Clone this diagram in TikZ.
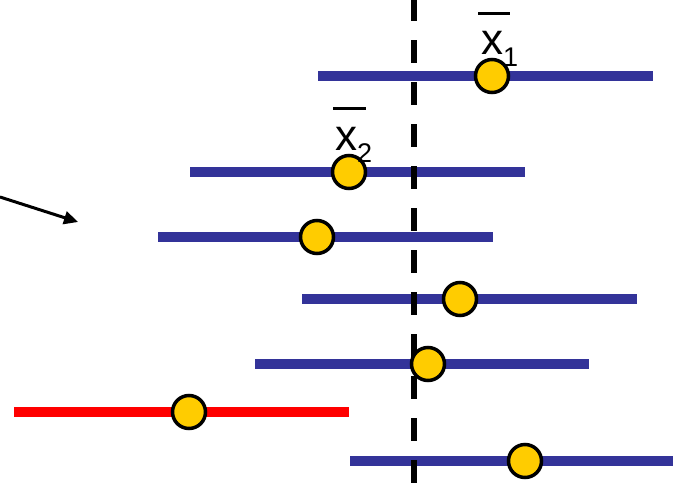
\documentclass[tikz,border=0pt]{standalone}
\usepackage{fontspec}
\setmainfont{Liberation Sans}
\usetikzlibrary{arrows.meta}
\definecolor{barblue}{HTML}{333399}
\definecolor{dotgold}{HTML}{FFCC00}
\definecolor{barred}{HTML}{FF0000}
\begin{document}
\begin{tikzpicture}[x=1pt,y=-1pt,
  bar/.style={line width=10pt, barblue},
  redbar/.style={line width=10pt, barred},
  dot/.style={circle, draw=black, line width=3.5pt, fill=dotgold, minimum size=33pt, inner sep=0pt},
  meanline/.style={line width=6pt, dash pattern=on 23pt off 19pt, dash phase=2pt},
  lbl/.style={anchor=base west, inner sep=0pt, font=\fontsize{44}{44}\selectfont},
  bartop/.style={line width=3pt}
]
\useasboundingbox (0,0) rectangle (673,483);
% interval end points
\coordinate (a1) at (318,76);  \coordinate (b1) at (653,76);
\coordinate (a2) at (190,172); \coordinate (b2) at (525,172);
\coordinate (a3) at (158,237); \coordinate (b3) at (493,237);
\coordinate (a4) at (302,299); \coordinate (b4) at (637,299);
\coordinate (a5) at (255,364); \coordinate (b5) at (589,364);
\coordinate (a6) at (14,412);  \coordinate (b6) at (349,412);
\coordinate (a7) at (350,461); \coordinate (b7) at (673,461);
\draw[bar] (a1) -- (b1);
\draw[bar] (a2) -- (b2);
\draw[bar] (a3) -- (b3);
\draw[bar] (a4) -- (b4);
\draw[bar] (a5) -- (b5);
\draw[redbar] (a6) -- (b6);
\draw[bar] (a7) -- (b7);
% true mean
\coordinate (mtop) at (414,0);
\coordinate (mbot) at (414,483);
\draw[meanline] (mtop) -- (mbot);
% sample means
\node[dot] (d1) at (492,76) {};
\node[dot] (d2) at (349,172) {};
\node[dot] (d3) at (317,237) {};
\node[dot] (d4) at (460,299) {};
\node[dot] (d5) at (428,364) {};
\node[dot] (d6) at (189,412) {};
\node[dot] (d7) at (525,461) {};
% labels
\node[lbl] (l1) at (481,54) {x\raisebox{-12pt}{\fontsize{27}{27}\selectfont 1}};
\draw[bartop] (478,13) -- (510,13);
\node[lbl] (l2) at (335,150) {x\raisebox{-12pt}{\fontsize{27}{27}\selectfont 2}};
\draw[bartop] (333,108) -- (366,108);
% arrow
\coordinate (as) at (0,197);
\coordinate (ae) at (78,222);
\draw[line width=3pt, -{Triangle[length=14pt,width=13pt]}] (as) -- (ae);
\end{tikzpicture}
\end{document}
